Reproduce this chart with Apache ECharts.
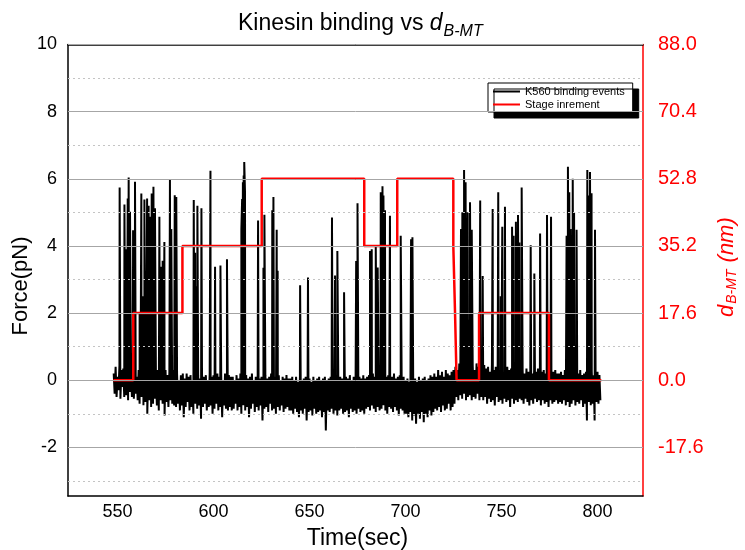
<!DOCTYPE html>
<html><head><meta charset="utf-8">
<script src="https://cdn.jsdelivr.net/npm/echarts@6/dist/echarts.min.js"></script>
<style>html,body{margin:0;padding:0;background:#fff}#c{width:745px;height:550px}</style>
</head><body><div id="c"></div>
<script>
// ---------- data ----------
const xTicks = [550, 600, 650, 700, 750, 800];
const forceTicks = [-2, 0, 2, 4, 6, 8, 10];
const forceMinorTicks = [-3, -1, 1, 3, 5, 7, 9];
const dTicks = [-17.6, 0, 17.6, 35.2, 52.8, 70.4, 88];

// stage increment (d_B-MT, nm), held until the next time
const stageTimes = [547.8, 558.2, 583.8, 625.1, 678.5, 695.7, 724.9, 725.8, 726.6, 738.3, 774.7, 802.0];
const stageNm    = [0, 17.6, 35.2, 52.8, 35.2, 52.8, 35.2, 17.6, 0, 17.6, 0, 0];

// binding events (time in s, peak force in pN)
const spikeT = [551.1,553.6,554.4,555.3,555.8,556.5,558.1,559.1,561.5,562.4,562.9,563.3,563.6,564.0,565.4,566.2,567.1,567.8,568.7,569.5,571.8,572.7,573.5,574.4,577.3,578.0,579.8,580.6,589.7,590.4,591.0,591.6,593.7,598.4,600.8,603.6,607.0,614.5,614.9,615.3,615.7,616.0,616.4,623.2,626.0,626.5,630.6,631.2,632.9,633.4,645.1,649.2,661.7,663.3,664.5,668.0,674.3,675.0,681.5,682.4,684.5,685.5,687.1,687.6,688.0,688.5,689.3,691.9,697.5,702.9,703.6,728.9,729.2,729.6,730.0,730.5,731.3,731.8,732.4,733.0,733.6,734.5,738.9,740.2,745.4,748.3,749.6,750.4,751.8,755.5,756.3,757.5,758.6,759.3,760.5,765.2,767.1,770.1,773.7,775.8,783.9,784.6,785.3,786.0,787.1,787.8,789.1,794.7,795.4,796.1,796.9,798.7];
const spikeF = [5.74,5.23,3.9,5.41,6.04,5.02,4.47,5.91,2.0,5.56,2.2,2.5,1.8,5.38,5.41,5.2,4.87,5.56,5.76,5.12,4.87,3.38,3.56,4.12,5.96,4.5,5.51,5.46,5.37,3.8,2.8,5.2,5.12,6.24,3.38,3.42,3.6,4.5,5.4,5.9,6.1,6.5,5.6,4.76,3.35,4.93,5.06,5.46,4.48,3.26,2.83,3.06,4.85,3.12,3.85,2.62,3.55,5.27,3.85,3.9,4.0,3.36,5.6,4.8,5.78,5.5,5.06,4.9,4.3,4.2,4.26,4.5,2.0,5.0,2.5,6.26,5.9,2.2,5.0,1.8,5.3,4.48,5.35,3.1,5.1,5.6,2.5,4.57,5.17,4.57,4.3,4.72,4.92,4.1,5.74,4.02,3.18,4.37,4.92,4.87,4.3,6.36,5.6,4.5,6.0,5.0,4.48,6.26,5.5,6.2,5.57,4.48];

// baseline noise (pN), sampled every 0.5 s from each segment start
const baseStep = 0.5;
const baseStart = [548, 560, 580, 610, 640, 660, 680, 700, 715, 726, 740, 760, 780];
const baseValues = [
 [0.2,-0.4,0.4,-0.5,0.1,-0.3,0.45,-0.55,0.3,-0.2,0.35,-0.5,0.15,-0.45,0.4,-0.6,0.25,-0.35,0.45,-0.5,0.2,-0.55,0.3,-0.4],
 [0.1,-0.6,0.3,-0.7,0.2,-0.5,0.35,-0.75,0.05,-0.65,0.25,-1.0,0.3,-0.6,0.15,-0.8,0.35,-0.7,0.2,-0.55,0.1,-0.75,0.3,-0.9,0.2,-0.6,0.25,-0.7,0.05,-1.05,0.3,-0.65,0.15,-0.8,0.25,-0.6,0.1,-0.7,0.3,-0.75],
 [0.1,-0.8,0.2,-0.7,0.0,-0.9,0.15,-0.75,0.2,-1.1,0.05,-0.8,0.2,-0.65,0.1,-0.9,0.15,-0.8,0.0,-1.0,0.2,-0.7,0.1,-0.85,0.15,-0.75,0.05,-1.15,0.2,-0.8,0.1,-0.7,0.15,-0.9,0.0,-0.8,0.2,-0.75,0.1,-1.0,0.15,-0.85,0.05,-0.7,0.2,-0.9,0.1,-0.8,0.15,-1.1,0.0,-0.75,0.2,-0.85,0.1,-0.9,0.15,-0.8,0.1,-0.9],
 [0.1,-0.85,0.0,-0.7,0.15,-0.9,0.05,-0.8,0.2,-1.0,0.1,-0.75,0.0,-0.9,0.15,-0.8,0.05,-1.1,0.1,-0.85,0.2,-0.7,0.0,-0.95,0.1,-0.8,0.15,-0.9,0.05,-0.75,0.1,-1.2,0.0,-0.85,0.15,-0.8,0.05,-0.95,0.1,-0.7,0.2,-0.9,0.0,-0.85,0.1,-1.0,0.05,-0.8,0.15,-0.9,0.0,-0.75,0.1,-0.95,0.05,-0.85,0.15,-0.8,0.05,-0.9],
 [0.05,-0.9,0.1,-1.0,0.0,-0.85,0.1,-0.95,-0.05,-1.1,0.1,-0.9,0.0,-1.0,0.05,-0.85,0.1,-1.2,0.0,-0.95,0.05,-0.9,-0.05,-1.05,0.1,-0.85,0.0,-1.0,0.05,-0.95,0.1,-0.9,0.0,-1.1,0.05,-0.95,0.1,-1.5,0.0,-0.9],
 [0.05,-0.95,0.1,-0.85,0.0,-1.0,0.05,-0.9,0.15,-1.05,0.0,-0.9,0.1,-0.85,0.05,-1.0,0.0,-0.95,0.1,-0.9,0.05,-1.1,0.15,-0.85,0.0,-0.95,0.1,-0.9,0.05,-1.0,0.0,-0.85,0.1,-0.95,0.05,-0.9,0.15,-1.0,0.05,-0.85],
 [0.1,-0.8,0.15,-0.9,0.05,-0.75,0.2,-0.85,0.1,-0.95,0.0,-0.8,0.15,-0.9,0.1,-0.85,0.2,-0.75,0.05,-0.9,0.1,-1.0,0.15,-0.8,0.0,-0.85,0.1,-0.95,0.2,-0.8,0.05,-0.9,0.1,-1.05,0.15,-0.85,0.0,-0.9,0.1,-1.0],
 [0.0,-1.0,0.05,-1.1,-0.05,-0.95,0.1,-1.2,0.0,-1.05,0.05,-1.3,-0.05,-1.0,0.1,-1.15,0.0,-0.95,0.05,-1.25,0.1,-1.0,0.0,-1.1,0.05,-0.9,0.15,-1.05,0.1,-0.95],
 [0.2,-0.85,0.1,-0.9,0.3,-0.8,0.15,-0.95,0.25,-0.75,0.1,-0.9,0.3,-0.85,0.2,-0.7,0.15,-0.9,0.25,-0.8,0.3,-0.7],
 [0.4,-0.5,0.3,-0.6,0.5,-0.45,0.35,-0.55,0.45,-0.4,0.3,-0.6,0.5,-0.5,0.4,-0.45,0.35,-0.6,0.45,-0.5,0.3,-0.55,0.5,-0.4,0.4,-0.6,0.35,-0.5],
 [0.3,-0.6,0.45,-0.5,0.35,-0.7,0.4,-0.55,0.25,-0.65,0.45,-0.6,0.3,-0.75,0.4,-0.5,0.35,-0.65,0.3,-0.6,0.4,-0.7,0.25,-0.55,0.35,-0.65,0.4,-0.6,0.3,-0.8,0.35,-0.55,0.25,-0.7,0.4,-0.6,0.3,-0.65,0.35,-0.55],
 [0.25,-0.6,0.3,-0.7,0.2,-0.55,0.35,-0.65,0.25,-0.75,0.3,-0.6,0.2,-0.7,0.3,-0.55,0.25,-0.65,0.35,-0.6,0.2,-0.75,0.25,-0.6,0.3,-0.7,0.2,-0.65,0.25,-0.8,0.3,-0.6,0.2,-0.7,0.25,-0.65,0.3,-0.6,0.2,-0.7],
 [0.2,-0.65,0.25,-0.7,0.15,-0.6,0.3,-0.75,0.2,-0.65,0.25,-0.8,0.15,-0.7,0.2,-0.6,0.25,-0.75,0.15,-0.65,0.2,-0.7,0.3,-0.6,0.15,-0.8,0.2,-0.7,0.25,-1.2,0.15,-0.65,0.2,-0.75,0.25,-0.7,0.15,-1.2,0.2,-0.65,0.25,-0.7,0.15,-0.6]
];

// ---------- build series data ----------
const trace = [];
baseStart.forEach((s, k) => baseValues[k].forEach((v, i) => trace.push([s + i * baseStep, v])));
spikeT.forEach((t, i) => trace.push([t, spikeF[i]]));
trace.sort((a, b) => a[0] - b[0]);
const stage = stageTimes.map((t, i) => [t, stageNm[i]]);

const FONT = 'Liberation Sans, Arial, sans-serif';
const ctx = document.createElement('canvas').getContext('2d');
function tw(text, font) { ctx.font = font; return ctx.measureText(text).width; }

// title pieces
const fMain = '23px ' + FONT, fMainI = 'italic 23px ' + FONT, fSub = 'italic 16px ' + FONT;
const tX0 = 238;
const wMain = tw('Kinesin binding vs ', fMain);
const wD = tw('d', fMainI);
// right-axis name pieces (rotated, reading upward)
const rFont = 'italic 22px ' + FONT, rSub = 'italic 14px ' + FONT;
const rY0 = 317;
const rWD = tw('d', rFont) + 1;
const rWS = tw('B-MT', rSub) + 1;

const chart = echarts.init(document.getElementById('c'), null, {renderer: 'canvas'});

const gridLines = forceTicks.map(v => ({yAxis: v, lineStyle: {color: '#a6a6a6', width: 1, type: 'solid'}}))
  .concat(forceMinorTicks.map(v => ({yAxis: v, lineStyle: {color: '#c4c4c4', width: 1, type: [2, 3]}})));

chart.setOption({
  animation: false,
  backgroundColor: '#fff',
  legend: {
    data: [{name: 'K560 binding events', icon: 'rect'}, {name: 'Stage inrement', icon: 'rect'}],
    orient: 'vertical', left: 488, top: 83,
    itemWidth: 27, itemHeight: 2, itemGap: 0,
    padding: [2, 8, 1, 5],
    backgroundColor: '#fff', borderColor: '#000', borderWidth: 1, borderRadius: 0,
    shadowColor: '#000', shadowBlur: 0, shadowOffsetX: 6, shadowOffsetY: 6,
    textStyle: {fontFamily: FONT, fontSize: 11, color: '#000', lineHeight: 13},
    selectedMode: false
  },
  grid: {left: 68, right: 102, top: 44.5, bottom: 54, containLabel: false},
  xAxis: [{
    type: 'value', min: 524.2, max: 823.7, position: 'bottom',
    axisLine: {show: true, onZero: false, lineStyle: {color: '#000', width: 1.5}},
    axisTick: {show: false}, splitLine: {show: false},
    axisLabel: {customValues: xTicks, color: '#000', fontSize: 18, fontFamily: FONT, margin: 7}
  }, {
    type: 'value', min: 524.2, max: 823.7, position: 'top',
    axisLine: {show: true, onZero: false, lineStyle: {color: '#000', width: 1.5}},
    axisTick: {show: false}, splitLine: {show: false}, axisLabel: {show: false}
  }],
  yAxis: [{
    type: 'value', min: -3.45, max: 10, position: 'left',
    axisLine: {show: true, onZero: false, lineStyle: {color: '#000', width: 1.5}},
    axisTick: {show: false}, splitLine: {show: false},
    axisLabel: {customValues: forceTicks, color: '#000', fontSize: 18, fontFamily: FONT, margin: 11}
  }, {
    type: 'value', min: -30.36, max: 88, position: 'right',
    axisLine: {show: true, onZero: false, lineStyle: {color: '#ff0000', width: 1.5}},
    axisTick: {show: false}, splitLine: {show: false},
    axisLabel: {customValues: dTicks, color: '#ff0000', fontSize: 20, fontFamily: FONT, margin: 15,
      formatter: v => Number(v).toFixed(1)}
  }],
  graphic: [
    // title
    {type: 'text', x: tX0, y: 23.5, style: {text: 'Kinesin binding vs ', font: fMain, fill: '#000', align: 'left', verticalAlign: 'middle'}},
    {type: 'text', x: tX0 + wMain, y: 23.5, style: {text: 'd', font: fMainI, fill: '#000', align: 'left', verticalAlign: 'middle'}},
    {type: 'text', x: tX0 + wMain + wD + 1, y: 32, style: {text: 'B-MT', font: fSub, fill: '#000', align: 'left', verticalAlign: 'middle'}},
    // axis names
    {type: 'text', x: 21, y: 286, rotation: Math.PI / 2,
     style: {text: 'Force(pN)', font: '22px ' + FONT, fill: '#000', align: 'center', verticalAlign: 'middle'}},
    {type: 'text', x: 357.5, y: 539,
     style: {text: 'Time(sec)', font: '23px ' + FONT, fill: '#000', align: 'center', verticalAlign: 'middle'}},
    {type: 'text', x: 726.5, y: rY0, rotation: Math.PI / 2,
     style: {text: 'd', font: rFont, fill: '#ff0000', align: 'left', verticalAlign: 'middle'}},
    {type: 'text', x: 732, y: rY0 - rWD, rotation: Math.PI / 2,
     style: {text: 'B-MT', font: rSub, fill: '#ff0000', align: 'left', verticalAlign: 'middle'}},
    {type: 'text', x: 726.5, y: rY0 - rWD - rWS, rotation: Math.PI / 2,
     style: {text: ' (nm)', font: rFont, fill: '#ff0000', align: 'left', verticalAlign: 'middle'}}
  ],
  series: [{
    name: 'grid', type: 'line', data: [[550, 0]], symbol: 'none', silent: true, z: 1,
    lineStyle: {opacity: 0},
    markLine: {silent: true, symbol: ['none', 'none'], label: {show: false}, animation: false, data: gridLines}
  }, {
    name: 'K560 binding events', type: 'line', data: trace, xAxisIndex: 0, yAxisIndex: 0,
    symbol: 'none', showSymbol: false, color: '#000', lineStyle: {color: '#000', width: 2}, z: 2
  }, {
    name: 'Stage inrement', type: 'line', data: stage, xAxisIndex: 0, yAxisIndex: 1, step: 'end',
    symbol: 'none', showSymbol: false, color: '#ff0000', lineStyle: {color: '#ff0000', width: 2.5}, z: 3
  }]
});
</script>
</body></html>
